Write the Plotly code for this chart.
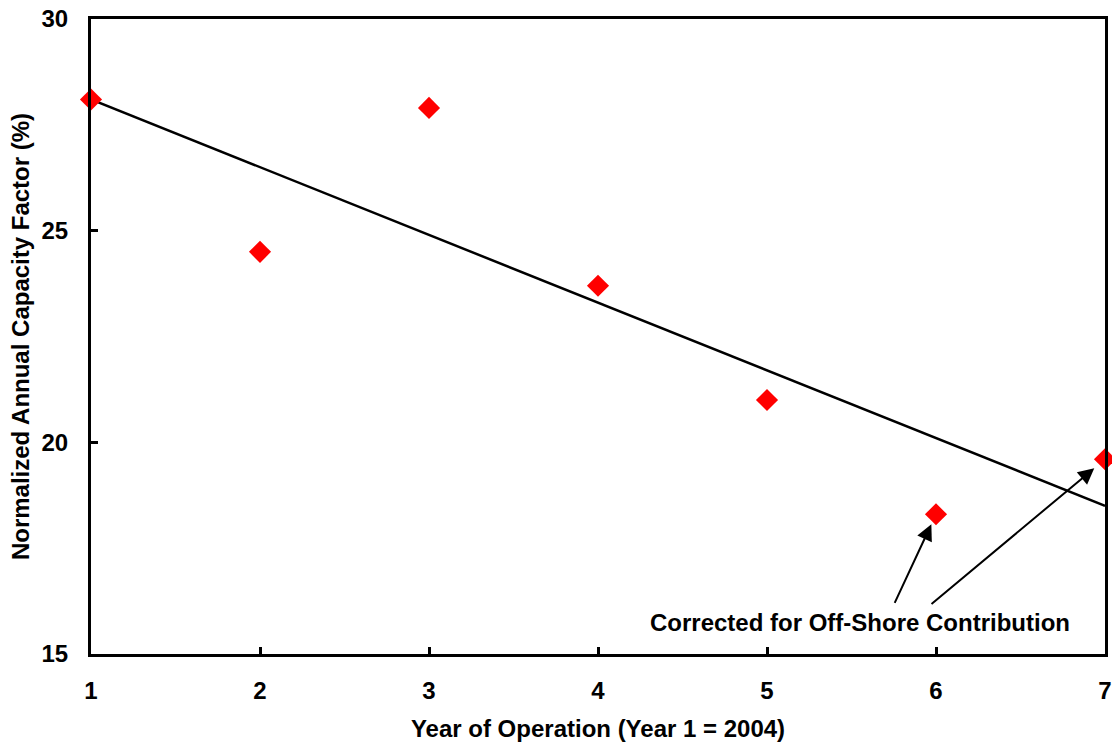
import numpy as np
import plotly.graph_objects as go

years = [1, 2, 3, 4, 5, 6, 7]
capacity_factor = [28.1, 24.5, 27.9, 23.7, 21.0, 18.3, 19.6]
x_ticks = [1, 2, 3, 4, 5, 6, 7]
y_ticks = [15, 20, 25, 30]

slope, intercept = np.polyfit(years, capacity_factor, 1)
trend_x = [years[0], years[-1]]
trend_y = [slope * v + intercept for v in trend_x]

font_family = "Liberation Sans, Arial, sans-serif"

fig = go.Figure()
fig.add_trace(go.Scatter(x=trend_x, y=trend_y, mode="lines",
                         line=dict(color="black", width=2.5),
                         showlegend=False, cliponaxis=False))
fig.add_trace(go.Scatter(x=years, y=capacity_factor, mode="markers",
                         marker=dict(symbol="diamond", size=17, color="#FF0000",
                                     line=dict(width=0)),
                         showlegend=False, cliponaxis=False))

fig.add_annotation(x=years[5], y=capacity_factor[5], ax=-42, ay=90,
                   showarrow=True, arrowhead=2, arrowsize=1.6, arrowwidth=2,
                   arrowcolor="black", standoff=11, text="")
fig.add_annotation(x=years[6], y=capacity_factor[6], ax=-175, ay=146,
                   showarrow=True, arrowhead=2, arrowsize=1.6, arrowwidth=2,
                   arrowcolor="black", standoff=14, text="")
fig.add_annotation(xref="paper", yref="paper", x=0.758, y=0.050,
                   text="<b>Corrected for Off-Shore Contribution</b>",
                   showarrow=False, xanchor="center", yanchor="middle",
                   font=dict(size=24, color="black", family=font_family))

axis_common = dict(showgrid=False, zeroline=False, showline=True,
                   linecolor="black", linewidth=3, mirror=True,
                   ticks="inside", ticklen=7, tickwidth=3, tickcolor="black",
                   automargin=False,
                   tickfont=dict(size=24, color="black", family=font_family))

fig.update_xaxes(range=[1, 7], tickvals=x_ticks,
                 ticktext=[f"<b>{v}</b>" for v in x_ticks],
                 title=dict(text="<b>Year of Operation (Year 1 = 2004)</b>",
                            font=dict(size=24, color="black", family=font_family),
                            standoff=19),
                 ticklabelstandoff=13,
                 **axis_common)
fig.update_yaxes(range=[15, 30], tickvals=y_ticks,
                 ticktext=[f"<b>{v}</b>" for v in y_ticks],
                 title=dict(text="<b>Normalized Annual Capacity Factor (%)</b>",
                            font=dict(size=24, color="black", family=font_family),
                            standoff=6),
                 ticklabelstandoff=15,
                 **axis_common)

fig.update_layout(width=1112, height=742,
                  margin=dict(l=91, r=7, t=19, b=88),
                  plot_bgcolor="white", paper_bgcolor="white",
                  font=dict(family=font_family, color="black"))

fig.write_html("out.html", config={"displayModeBar": False},
               post_script="document.body.style.margin='0px';")
